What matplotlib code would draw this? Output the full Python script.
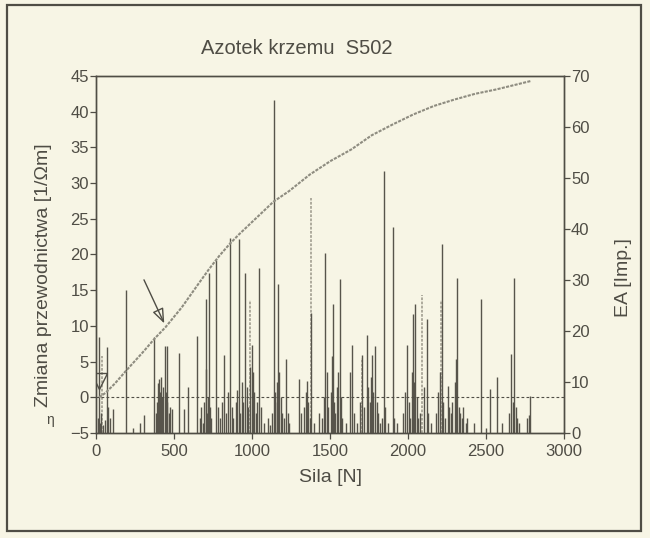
import matplotlib
matplotlib.use("Agg")
import matplotlib.pyplot as plt
from matplotlib.patches import Rectangle

plt.rcParams['font.family'] = ['Liberation Sans', 'DejaVu Sans']

# ---- data ----
title = "Azotek krzemu  S502"
xlabel = "Sila [N]"
ylabel_left = "Zmiana przewodnictwa [1/\u03a9m]"
ylabel_right = "EA [Imp.]"

x_ticks = [0, 500, 1000, 1500, 2000, 2500, 3000]
left_ticks = [-5, 0, 5, 10, 15, 20, 25, 30, 35, 40, 45]
right_ticks = [0, 10, 20, 30, 40, 50, 60, 70]

# conductivity change curve (left axis)
curve_force = [20, 60, 120, 196, 300, 379, 445, 550, 657, 723, 790, 858, 916, 1027,
               1138, 1239, 1371, 1504, 1636, 1768, 1901, 2033, 2166, 2298, 2430,
               2563, 2695, 2788]
curve_value = [0.0, 0.6, 1.9, 3.8, 6.3, 8.3, 9.8, 12.6, 15.9, 17.9, 19.8, 21.5, 22.8, 25.1,
               27.4, 28.9, 31.2, 33.1, 34.7, 36.7, 38.2, 39.6, 40.8, 41.7, 42.5,
               43.1, 43.8, 44.3]

# acoustic emission events (right axis) - dark bars
ea_force = [10, 16, 25, 35, 45, 55, 68, 80, 90, 110,
            193, 240, 285, 308,
            372, 385, 392, 398, 405, 410, 415, 420, 425, 432, 440, 447, 452, 458, 465, 475, 490,
            532, 562, 590, 648,
            665, 675, 685, 695, 702, 708, 712, 718, 723, 728, 735,
            770, 785, 795, 805, 823, 835, 845, 858, 870, 880, 895, 905, 916, 925, 935, 945,
            956, 965, 975, 985, 1000, 1005, 1015, 1025, 1035, 1046, 1055,
            1080, 1100, 1115,
            1130, 1139, 1145, 1150, 1158, 1168, 1175, 1185, 1195, 1205, 1218, 1228, 1240,
            1300, 1315, 1335, 1345, 1352, 1360, 1370, 1378, 1400,
            1430, 1450, 1462, 1469, 1478, 1490, 1505, 1512, 1517, 1525, 1535, 1545, 1553,
            1562, 1570, 1580, 1600,
            1625, 1641, 1655, 1675, 1695, 1708, 1720, 1734, 1745, 1755, 1762, 1769, 1778,
            1790, 1800, 1810, 1820, 1835, 1848, 1855, 1870, 1901, 1910, 1930,
            1965, 1980, 1994, 2005, 2015, 2025, 2033, 2040, 2047, 2055, 2065, 2075, 2100,
            2121, 2130, 2150,
            2180, 2195, 2205, 2218, 2225, 2235, 2255, 2265, 2275, 2285, 2300, 2310, 2317,
            2325, 2335, 2345, 2355, 2370, 2380,
            2420, 2470, 2500, 2523, 2568, 2600,
            2650, 2663, 2670, 2682, 2690, 2700, 2710, 2760, 2775, 2785]
ea_count = [3, 18.9, 2, 4, 1.5, 2.5, 16.9, 5, 3, 4.8,
            28.1, 1, 2, 3.5,
            18.8, 4, 6, 9.8, 10.5, 8, 11, 7, 5, 9, 17, 8, 17, 6, 4, 5, 4.7,
            15.7, 4.7, 9, 19,
            3, 5, 2, 6, 26.3, 12.6, 4, 7, 31.3, 5, 3,
            34, 5, 3, 6, 15.3, 4, 8, 38.2, 5, 3, 6, 8.4, 38, 4, 10, 6,
            31.3, 9, 5, 13, 17.3, 12, 8, 4, 6, 32.3, 5,
            2, 3, 1.5,
            4, 65.3, 8, 6, 10, 29.3, 12, 7, 4, 3, 14.6, 4, 2,
            10.5, 4, 5, 8, 10.2, 6, 3, 23.5, 2,
            4, 3, 7, 35.3, 12, 5, 8, 15, 25.3, 6, 4, 9, 12,
            30.1, 7, 3, 2,
            12, 17.3, 4, 2, 6, 15.3, 5, 19.3, 9, 6, 11, 15.3, 8,
            17, 6, 4, 2, 3, 51.4, 5, 2, 40.4, 3, 2,
            4, 8, 17.3, 6, 3, 12, 23.3, 10, 25.3, 7, 3, 4, 9,
            22.3, 4, 2,
            4, 8, 12, 37, 6, 3, 9.2, 5, 4, 6, 10, 14.5, 30.3,
            5, 4, 3, 5, 2, 3,
            2, 26.3, 1, 8.6, 11, 2,
            4, 15.5, 6, 30.3, 5, 3, 2, 3, 3.5, 7.2]

# lighter (grey) acoustic emission bars
ea_light_force = [40, 985, 1376, 1705, 2090, 2210]
ea_light_count = [15, 26, 46, 14.7, 27, 26]

# markers / annotation
start_marker = (22, 2.3)
arrow_from = (300, 16.8)
arrow_to = (445, 10.0)

# ---- style ----
bg = '#f7f5e5'
ink = '#4f4d45'
bar_col = '#57544b'
light_col = '#a8a597'
curve_col = '#8e8c80'

fig = plt.figure(figsize=(6.5, 5.38), dpi=100, facecolor=bg)
ax = fig.add_axes([0.1477, 0.1952, 0.72, 0.6636])
ax.set_facecolor(bg)
ax2 = ax.twinx()

ax2.vlines(ea_light_force, 0, ea_light_count, colors=light_col, linewidth=1.3,
           linestyles=(0, (1.5, 0.8)), zorder=2)
ax2.vlines(ea_force, 0, ea_count, colors=bar_col, linewidth=1.0, zorder=3)
ax2.set_ylim(0, 70)
ax2.set_yticks(right_ticks)

ax.set_zorder(ax2.get_zorder() + 1)
ax.patch.set_visible(False)
ax2.patch.set_visible(True)
ax2.patch.set_facecolor(bg)

ax.plot(curve_force, curve_value, color=curve_col, linewidth=1.5,
        linestyle=(0, (1.5, 0.6)), zorder=4)
ax.axhline(0, color=ink, linewidth=0.8, linestyle=(0, (2.5, 2)), zorder=3)
ax.plot([start_marker[0]], [start_marker[1]], marker='v', markersize=11,
        markerfacecolor='none', markeredgecolor=ink, markeredgewidth=1.0, zorder=5)
ax.annotate('', xy=arrow_to, xytext=arrow_from,
            arrowprops=dict(arrowstyle='-|>,head_length=0.9,head_width=0.35',
                            facecolor='none', edgecolor=ink, linewidth=1.0),
            zorder=5)

ax.set_xlim(0, 3000)
ax.set_ylim(-5, 45)
ax.set_xticks(x_ticks)
ax.set_yticks(left_ticks)

for a in (ax, ax2):
    for s in a.spines.values():
        s.set_color(ink)
        s.set_linewidth(1.0)
    a.tick_params(colors=ink, labelcolor=ink, direction='out', length=4,
                  width=0.9, labelsize=12, pad=1)
ax.tick_params(axis='x', pad=4)

ax.set_xlabel(xlabel, fontsize=14, color=ink)
ax.xaxis.set_label_coords(0.5, -0.1)
ax.set_ylabel(ylabel_left, fontsize=14, color=ink)
ax.yaxis.set_label_coords(-0.095, 0.443)
ax2.set_ylabel(ylabel_right, fontsize=14, color=ink)
ax2.yaxis.set_label_coords(1.108, 0.434)
fig.text(0.457, 0.91, title, fontsize=14.5, color=ink, ha='center', va='center')
fig.text(0.077, 0.219, "\u03b7", fontsize=10, color=ink, ha='center', va='center')

fig.patches.append(Rectangle((0.0108, 0.013), 0.975, 0.978, transform=fig.transFigure,
                             fill=False, edgecolor=ink, linewidth=1.6))

fig.savefig('out.png', dpi=100, facecolor=bg)
